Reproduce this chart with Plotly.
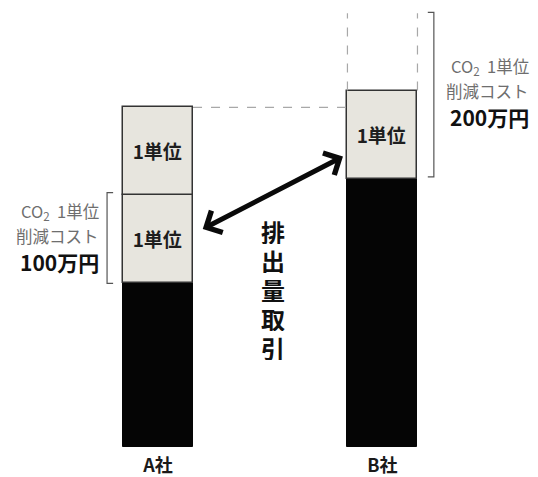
import plotly.graph_objects as go

# Companies and stacked block heights (in emission units)
companies = ["A社", "B社"]
base_block = [1.86, 3.05]          # black: remaining emissions
unit_first = [1.0, 1.0]            # first reducible unit
unit_second = [1.0, None]          # second reducible unit (A社 only)
unit_label = "1単位"
b_extension = 0.88                 # dashed outline above B社 (cost is doubled)
cost_labels = ["100万円", "200万円"]
caption = "排出量取引"

FONT = "Noto Sans CJK JP"
BAR_W = 0.312
GRAY_FILL = "#e7e5de"
EDGE = "#333333"
DASH = "#a8a8a8"
PX = 88.0                          # pixels per unit on the y axis

fig = go.Figure()
fig.add_trace(go.Bar(x=companies, y=base_block, width=BAR_W,
                     marker=dict(color="#050505", line=dict(color="#050505", width=1)),
                     hoverinfo="skip"))
fig.add_trace(go.Bar(x=companies, y=unit_first, base=base_block, width=BAR_W,
                     marker=dict(color=GRAY_FILL, line=dict(color=EDGE, width=1.5)),
                     text=[unit_label, unit_label], textposition="inside",
                     insidetextanchor="middle", constraintext="none",
                     textfont=dict(family=FONT, size=19, color="#1e1e1e", weight="bold"),
                     hoverinfo="skip"))
fig.add_trace(go.Bar(x=companies[:1], y=unit_second[:1], base=[base_block[0] + unit_first[0]],
                     width=BAR_W,
                     marker=dict(color=GRAY_FILL, line=dict(color=EDGE, width=1.5)),
                     text=[unit_label], textposition="inside",
                     insidetextanchor="middle", constraintext="none",
                     textfont=dict(family=FONT, size=19, color="#1e1e1e", weight="bold"),
                     hoverinfo="skip"))

a_top = base_block[0] + unit_first[0] + unit_second[0]
b_top = base_block[1] + unit_first[1]
b_ext_top = b_top + b_extension
half = BAR_W / 2

shapes = []
# horizontal guide from A社 top to B社
shapes.append(dict(type="line", x0=0 + half, x1=1 - half, y0=a_top, y1=a_top,
                   line=dict(color=DASH, width=1.2, dash="dash")))
# dashed outline above B社
for xe in (1 - half, 1 + half):
    shapes.append(dict(type="line", x0=xe, x1=xe, y0=b_top, y1=b_ext_top,
                       line=dict(color=DASH, width=1.2, dash="dash")))


# brackets marking the reduction cost span
def bracket(xv, tick, y0, y1):
    return dict(type="path",
                path=f"M {xv+tick},{y0} L {xv},{y0} L {xv},{y1} L {xv+tick},{y1}",
                line=dict(color="#555555", width=1.2))


shapes.append(bracket(-0.227, 0.027, base_block[0], base_block[0] + unit_first[0] + 0.03))
shapes.append(bracket(1.229, -0.027, base_block[1] + 0.02, b_ext_top + 0.01))

annotations = []
gray_txt = dict(family=FONT, size=16.5, color="#6e6e6e")
bold_txt = dict(family=FONT, size=21, color="#111111", weight="bold")

# left cost label (A社)
for txt, yv, fnt in [("CO<sub>2</sub>  1単位", 2.68, gray_txt),
                     ("削減コスト", 2.40, gray_txt),
                     (cost_labels[0], 2.10, bold_txt)]:
    annotations.append(dict(x=-0.255, y=yv, xref="x", yref="y", text=txt,
                            showarrow=False, font=fnt, xanchor="right"))
# right cost label (B社)
for txt, yv, fnt in [("CO<sub>2</sub>  1単位", 4.32, gray_txt),
                     ("削減コスト", 4.05, gray_txt),
                     (cost_labels[1], 3.75, bold_txt)]:
    annotations.append(dict(x=1.663, y=yv, xref="x", yref="y", text=txt,
                            showarrow=False, font=fnt, xanchor="right"))

# double-headed trade arrow between the two companies
annotations.append(dict(x=1 - half - 0.02, y=base_block[1] + 0.25, xref="x", yref="y",
                        ax=0 + half + 0.03, ay=base_block[0] + 0.6, axref="x", ayref="y",
                        text=" ", showarrow=True, arrowside="end+start",
                        arrowhead=4, startarrowhead=4, arrowsize=0.95, startarrowsize=0.95,
                        arrowwidth=5, arrowcolor="#0a0a0a", standoff=0, startstandoff=0))

# vertical caption, one character per row
for i, ch in enumerate(caption):
    annotations.append(dict(x=0.512, y=(447 - 231 - 29 * i) / PX, xref="x", yref="y",
                            text=ch, showarrow=False, height=26, borderpad=0,
                            valign="middle",
                            font=dict(family=FONT, size=24, color="#111111", weight="bold")))

fig.update_layout(
    width=538, height=477,
    margin=dict(l=0, r=0, t=0, b=30),
    barmode="overlay", bargap=0,
    showlegend=False,
    plot_bgcolor="white", paper_bgcolor="white",
    shapes=shapes, annotations=annotations,
    xaxis=dict(type="category", range=[-0.704, 1.693], showgrid=False, zeroline=False,
               showline=False, ticks="", ticklabelstandoff=6,
               tickfont=dict(family=FONT, size=18, color="#1a1a1a", weight="bold")),
    yaxis=dict(range=[0, 447 / PX], showgrid=False, zeroline=False, showline=False,
               showticklabels=False, ticks=""),
)

fig.write_html("out.html")
